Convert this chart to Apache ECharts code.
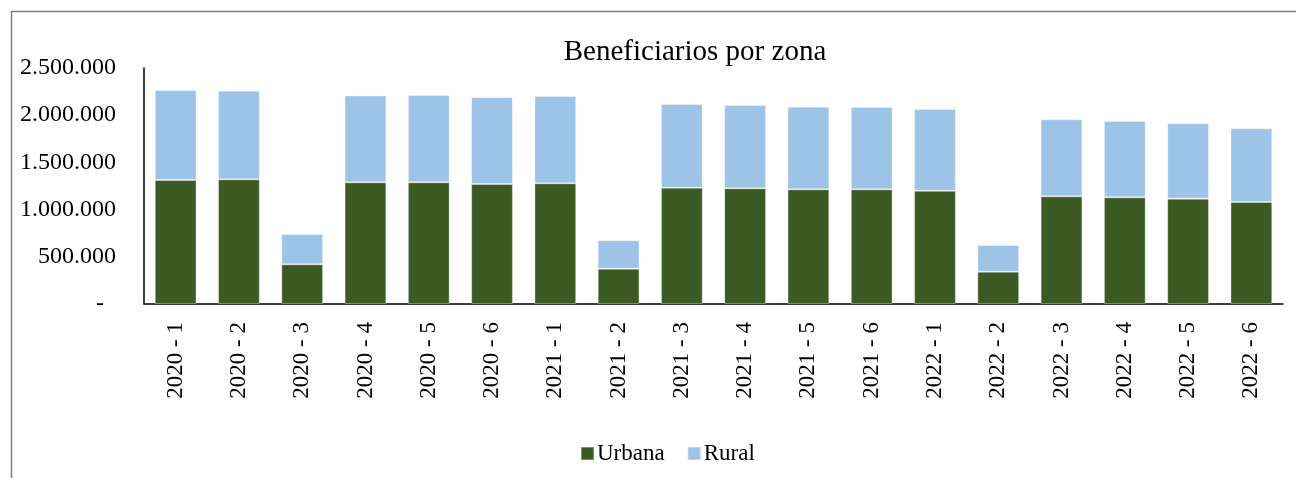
<!DOCTYPE html>
<html>
<head>
<meta charset="utf-8">
<script src="https://cdn.jsdelivr.net/npm/echarts@6/dist/echarts.min.js"></script>
<style>
  html, body { margin: 0; padding: 0; background: #fff; }
  #chart { width: 1296px; height: 478px; }
</style>
</head>
<body>
<div id="chart"></div>
<script>
// Data
const categories = [
  '2020 - 1', '2020 - 2', '2020 - 3', '2020 - 4', '2020 - 5', '2020 - 6',
  '2021 - 1', '2021 - 2', '2021 - 3', '2021 - 4', '2021 - 5', '2021 - 6',
  '2022 - 1', '2022 - 2', '2022 - 3', '2022 - 4', '2022 - 5', '2022 - 6'
];

const urbana = [
  1314000, 1321000, 420000, 1289000, 1289000, 1271000,
  1278000, 374000, 1232000, 1225000, 1215000, 1215000,
  1200000, 342000, 1141000, 1130000, 1116000, 1080000
];

const rural = [
  953000, 939000, 322000, 921000, 925000, 919000,
  925000, 301000, 887000, 883000, 875000, 872000,
  866000, 283000, 815000, 809000, 798000, 781000
];

const font = '"Liberation Serif", "Times New Roman", serif';

var chartDom = document.getElementById('chart');
var myChart = echarts.init(chartDom);

// thousands with dots, zero shown as a dash (accounting style)
function fmt(v) {
  if (v === 0) return '-  ';
  return String(v).replace(/\B(?=(\d{3})+(?!\d))/g, '.');
}

var option = {
  animation: false,
  backgroundColor: '#fff',
  textStyle: { fontFamily: font, color: '#000' },
  graphic: [{
    type: 'rect',
    shape: { x: 11.5, y: 11.5, width: 1400, height: 600 },
    style: { fill: 'none', stroke: '#808080', lineWidth: 1.5 },
    silent: true
  }],
  title: {
    text: 'Beneficiarios por zona',
    left: 690,
    textAlign: 'center',
    top: 33,
    textStyle: { fontFamily: font, fontSize: 29, fontWeight: 'normal', color: '#000' }
  },
  legend: {
    data: ['Urbana', 'Rural'],
    left: 575,
    top: 437,
    icon: 'rect',
    itemWidth: 13,
    itemHeight: 13,
    itemGap: 22,
    textStyle: { fontFamily: font, fontSize: 23, color: '#000', padding: [0, 0, 0, -2] }
  },
  grid: { left: 144, right: 13, top: 68, bottom: 174 },
  xAxis: {
    type: 'category',
    data: categories,
    axisLine: { lineStyle: { color: '#000', width: 1.5 } },
    axisTick: { show: false },
    axisLabel: {
      rotate: 90,
      margin: 18,
      fontFamily: font,
      fontSize: 23,
      color: '#000'
    }
  },
  yAxis: {
    type: 'value',
    min: 0,
    max: 2500000,
    interval: 500000,
    axisLine: { show: true, lineStyle: { color: '#000', width: 1.5 } },
    axisTick: { show: false },
    splitLine: { show: false },
    axisLabel: {
      margin: 28,
      fontFamily: font,
      fontSize: 24,
      color: '#000',
      formatter: fmt
    }
  },
  series: [
    {
      name: 'Urbana',
      type: 'bar',
      stack: 'total',
      barCategoryGap: '34%',
      itemStyle: { color: '#3B5A24', borderColor: 'rgba(255,255,255,0.35)', borderWidth: 1 },
      data: urbana
    },
    {
      name: 'Rural',
      type: 'bar',
      stack: 'total',
      barCategoryGap: '34%',
      itemStyle: { color: '#9DC3E6', borderColor: 'rgba(255,255,255,0.35)', borderWidth: 1 },
      data: rural
    }
  ]
};

option && myChart.setOption(option);
</script>
</body>
</html>
